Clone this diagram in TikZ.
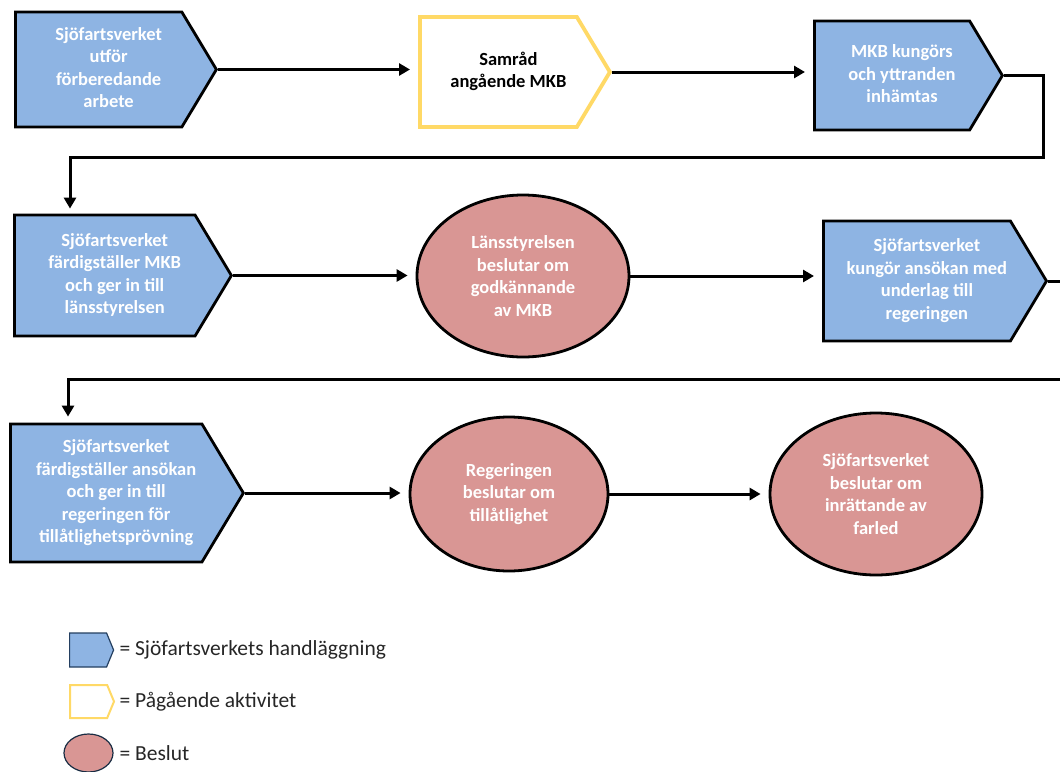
\documentclass[tikz,border=0pt]{standalone}
\usepackage{fontspec}
\setmainfont{Carlito}
\usetikzlibrary{arrows.meta,positioning,calc,shapes.symbols,shapes.geometric}

\definecolor{handblue}{HTML}{8EB4E3}
\definecolor{beslutred}{HTML}{D99694}
\definecolor{aktivyellow}{HTML}{FFD966}
\definecolor{legendnavy}{HTML}{243F60}

% text of a signal shape, set a little right of the body's centre
\newcommand{\handtext}[1]{\hspace*{20pt}\begin{tabular}{@{}c@{}}#1\end{tabular}}

\tikzset{
  flowtext/.style={align=center, font=\fontsize{18.5}{22.5}\selectfont\bfseries},
  handling/.style={flowtext, signal, signal to=east, signal pointer angle=118,
    anchor=west, draw=black, line width=2.8pt, fill=handblue, text=white},
  ongoing/.style={handling, draw=aktivyellow, line width=3.8pt, fill=white, text=black},
  decision/.style={flowtext, ellipse, draw=black, line width=2.8pt, fill=beslutred,
    text=white, inner sep=0pt},
  conn/.style={line width=3pt, -{Triangle[length=11pt,width=12pt]}, shorten >=8pt},
  legendtext/.style={anchor=west, font=\fontsize{21.5}{24}\selectfont, text=black!85}
}

\begin{document}
\begin{tikzpicture}[x=1pt, y=-1pt]
    \useasboundingbox (0,0) rectangle (1060,771);

    % first row
    \node[handling, minimum width=201pt, minimum height=115pt] (n1) at (14,69.5)
        {\handtext{Sjöfartsverket\\utför\\förberedande\\arbete}};
    \node[ongoing, minimum width=190pt, minimum height=110pt] (n2) at (418,72)
        {\handtext{Samråd\\angående MKB}};
    \node[handling, minimum width=188pt, minimum height=109pt] (n3) at (813,75.5)
        {\handtext{MKB kungörs\\och yttranden\\inhämtas}};

    % second row
    \node[handling, minimum width=217pt, minimum height=121pt] (n4) at (13,275.5)
        {\handtext{Sjöfartsverket\\färdigställer MKB\\och ger in till\\länsstyrelsen}};
    \node[decision, minimum width=212pt, minimum height=162pt] (n5) at (523,276)
        {Länsstyrelsen\\beslutar om\\godkännande\\av MKB};
    \node[handling, minimum width=217pt, minimum height=120pt] (n6) at (822,281)
        {\handtext{Sjöfartsverket\\kungör ansökan med\\underlag till\\regeringen}};

    % third row
    \node[handling, minimum width=233pt, minimum height=138pt] (n7) at (9,493)
        {\handtext{Sjöfartsverket\\färdigställer ansökan\\och ger in till\\regeringen för\\tillåtlighetsprövning}};
    \node[decision, minimum width=198pt, minimum height=154pt] (n8) at (509,494)
        {Regeringen\\beslutar om\\tillåtlighet};
    \node[decision, minimum width=212pt, minimum height=162pt] (n9) at (876,494)
        {Sjöfartsverket\\beslutar om\\inrättande av\\farled};

    % connectors
    \coordinate (bend1) at (1043,157);
    \coordinate (bend2) at (1080,379);
    \draw[conn] (n1.east) -- (n1.east -| n2.west);
    \draw[conn] (n2.east) -- (n2.east -| n3.west);
    \draw[conn, shorten >=5pt] (n3.east) -| (bend1) -| ($(n4.west|-n4.north)+(57,0)$);
    \draw[conn] (n4.east) -- (n4.east -| n5.west);
    \draw[conn] (n5.east) -- (n5.east -| n6.west);
    \draw[conn, shorten >=6pt] (n6.east) -| (bend2) -| ($(n7.west|-n7.north)+(59,0)$);
    \draw[conn] (n7.east) -- (n7.east -| n8.west);
    \draw[conn] (n8.east) -- (n8.east -| n9.west);

    % legend
    \node[handling, draw=legendnavy, line width=1.2pt, signal pointer angle=135,
        minimum width=44pt, minimum height=34pt, inner sep=0pt] (key1) at (69,650) {};
    \node[legendtext] (key1text) at (116,650) {= Sjöfartsverkets handläggning};
    \node[ongoing, line width=2pt, signal pointer angle=135,
        minimum width=44pt, minimum height=33pt, inner sep=0pt] (key2) at (69,701.5) {};
    \node[legendtext] (key2text) at (116,701.5) {= Pågående aktivitet};
    \node[decision, draw=legendnavy!70!black, line width=1.2pt,
        minimum width=49pt, minimum height=38pt] (key3) at (88.5,753) {};
    \node[legendtext] (key3text) at (116,753) {= Beslut};
\end{tikzpicture}
\end{document}
